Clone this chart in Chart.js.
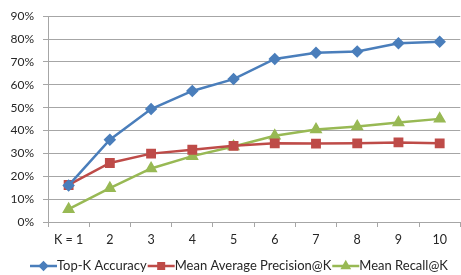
<!DOCTYPE html>
<html>
<head>
<meta charset="utf-8">
<script src="https://cdn.jsdelivr.net/npm/chart.js@4.4.0/dist/chart.umd.min.js"></script>
<style>
html, body { margin: 0; padding: 0; overflow: hidden; background: #fff; }
#wrap { width: 468px; height: 275px; }
</style>
</head>
<body>
<div id="wrap"><canvas id="myChart"></canvas></div>
<script>
var kLabels = ['K = 1', '2', '3', '4', '5', '6', '7', '8', '9', '10'];
var topKAccuracy = [16, 36, 49.4, 57.3, 62.5, 71.3, 74, 74.6, 78.2, 78.8];
var meanAvgPrecision = [16.2, 25.8, 29.9, 31.6, 33.3, 34.4, 34.3, 34.4, 34.8, 34.4];
var meanRecall = [5.6, 14.8, 23.4, 28.8, 33, 37.7, 40.5, 41.8, 43.5, 45.1];
var yMax = 90;
var yStep = 10;

var gridColor = '#a6a6a6';
var textColor = '#262626';
var fontFamily = 'Lato, "Open Sans", sans-serif';

// legend drawn by hand so each entry shows line + marker like Excel
var lineLegend = {
    id: 'lineLegend',
    afterDraw: function (chart) {
        var ctx = chart.ctx;
        var x = 30;
        var y = 266;
        ctx.save();
        ctx.font = '13px ' + fontFamily;
        ctx.textBaseline = 'middle';
        ctx.textAlign = 'left';
        chart.data.datasets.forEach(function (ds) {
            ctx.strokeStyle = ds.borderColor;
            ctx.lineWidth = 2.5;
            ctx.beginPath();
            ctx.moveTo(x, y);
            ctx.lineTo(x + 27, y);
            ctx.stroke();
            ctx.fillStyle = ds.backgroundColor;
            ctx.strokeStyle = ds.backgroundColor;
            Chart.helpers.drawPoint(ctx, {
                pointStyle: ds.pointStyle,
                radius: ds.pointRadius * 0.75,
                borderWidth: 1,
                rotation: 0
            }, x + 13.5, y);
            ctx.fillStyle = textColor;
            ctx.fillText(ds.label, x + 27, y);
            x += 27 + ctx.measureText(ds.label).width + 1;
        });
        ctx.restore();
    }
};

var ctx = document.getElementById('myChart');
var myChart = new Chart(ctx, {
    type: 'line',
    plugins: [lineLegend],
    data: {
        labels: kLabels,
        datasets: [{
            label: 'Top-K Accuracy',
            data: topKAccuracy,
            borderColor: '#4a7ebb',
            backgroundColor: '#4a7ebb',
            pointStyle: 'rectRot',
            pointRadius: 4.5,
            borderWidth: 2.5
        }, {
            label: 'Mean Average Precision@K',
            data: meanAvgPrecision,
            borderColor: '#be4b48',
            backgroundColor: '#be4b48',
            pointStyle: 'rect',
            pointRadius: 5.2,
            borderWidth: 2.5
        }, {
            label: 'Mean Recall@K',
            data: meanRecall,
            borderColor: '#98b954',
            backgroundColor: '#98b954',
            pointStyle: 'triangle',
            pointRadius: 5,
            borderWidth: 2.5
        }]
    },
    options: {
        responsive: true,
        maintainAspectRatio: false,
        animation: false,
        layout: {
            padding: { top: 12, right: 3, bottom: 25, left: 0 }
        },
        plugins: {
            legend: { display: false },
            tooltip: { enabled: false }
        },
        scales: {
            x: {
                offset: true,
                grid: {
                    offset: true,
                    drawOnChartArea: false,
                    tickLength: 5,
                    color: gridColor
                },
                border: { color: gridColor },
                ticks: {
                    padding: 5,
                    color: textColor,
                    maxRotation: 0,
                    autoSkip: false,
                    font: { family: fontFamily, size: 12.5 }
                },
                afterFit: function (scale) {
                    scale.height = 28;
                }
            },
            y: {
                min: 0,
                max: yMax,
                grid: {
                    tickLength: 5,
                    color: gridColor
                },
                border: { color: gridColor },
                ticks: {
                    stepSize: yStep,
                    padding: 9,
                    color: textColor,
                    font: { family: fontFamily, size: 12 },
                    callback: function (v) {
                        return v + '%';
                    }
                },
                afterFit: function (scale) {
                    scale.width = 48;
                }
            }
        }
    }
});
</script>
</body>
</html>
